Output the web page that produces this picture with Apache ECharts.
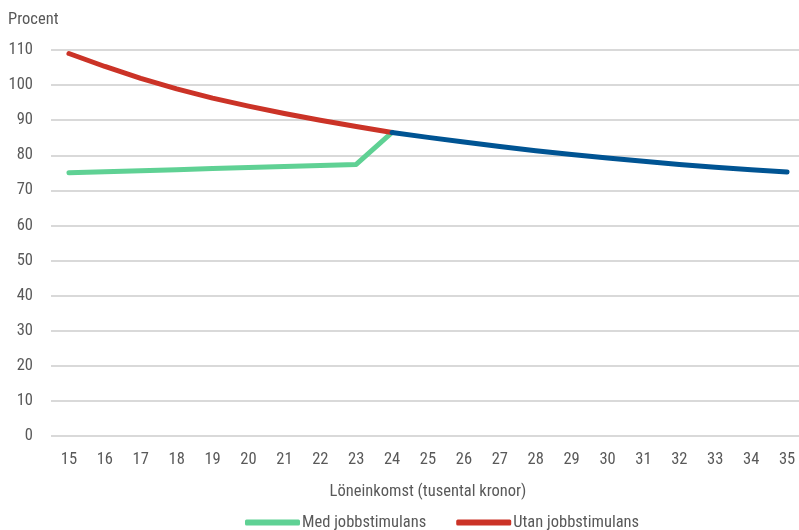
<!DOCTYPE html>
<html><head><meta charset="utf-8">
<script src="https://cdn.jsdelivr.net/npm/echarts@6/dist/echarts.min.js"></script>
<style>html,body{margin:0;padding:0;background:#fff}#c{width:799px;height:530px}</style>
</head><body><div id="c"></div>
<script>
const categories = ['15','16','17','18','19','20','21','22','23','24','25','26','27','28','29','30','31','32','33','34','35'];
const medJobbstimulans = [75.0, 75.3, 75.6, 75.9, 76.2, 76.5, 76.8, 77.1, 77.4, 86.5];
const utanJobbstimulans = [109.0, 105.3, 101.9, 98.9, 96.3, 94.0, 91.9, 90.0, 88.2, 86.5];
const gemensam = [null, null, null, null, null, null, null, null, null, 86.5, 85.1, 83.8, 82.5, 81.3, 80.2, 79.2, 78.3, 77.4, 76.6, 75.9, 75.2];
const yTicks = {min: 0, max: 110, interval: 10};

const FONT = '"Roboto Condensed", "Liberation Sans Narrow", sans-serif';
const FS = 16.5;
const chart = echarts.init(document.getElementById('c'), null, {renderer: 'canvas'});
const lineStyle = (c) => ({color: c, width: 5, cap: 'round', join: 'round'});
chart.setOption({
  animation: false,
  textStyle: {fontFamily: FONT, color: '#595959'},
  grid: {left: 51, top: 50, right: -6, bottom: 94, containLabel: false, outerBoundsMode: 'none'},
  title: {text: 'Procent', left: 3, top: 6, textStyle: {fontFamily: FONT, fontSize: FS, fontWeight: 'normal', color: '#595959'}},
  legend: {
    data: ['Med jobbstimulans', 'Utan jobbstimulans'],
    bottom: -6, left: 240,
    icon: 'roundRect', itemWidth: 55, itemHeight: 6, itemGap: 30,
    textStyle: {fontFamily: FONT, fontSize: FS, color: '#595959', padding: [0, 0, 0, -3]}
  },
  xAxis: {
    type: 'category', data: categories, boundaryGap: true,
    axisLine: {show: false}, axisTick: {show: false},
    axisLabel: {fontFamily: FONT, fontSize: FS, color: '#595959', margin: 15},
    name: 'Löneinkomst (tusental kronor)', nameLocation: 'middle', nameGap: 47,
    nameTextStyle: {fontFamily: FONT, fontSize: FS, color: '#595959'}
  },
  yAxis: {
    type: 'value', min: yTicks.min, max: yTicks.max, interval: yTicks.interval,
    axisLine: {show: false}, axisTick: {show: false},
    axisLabel: {fontFamily: FONT, fontSize: FS, color: '#595959', margin: 18},
    splitLine: {lineStyle: {color: '#d9d9d9', width: 2}}
  },
  series: [
    {name: 'Med jobbstimulans', type: 'line', data: medJobbstimulans, showSymbol: false, symbol: 'none', lineStyle: lineStyle('#5fd194'), itemStyle: {color: '#5fd194'}, z: 2},
    {name: 'Utan jobbstimulans', type: 'line', data: utanJobbstimulans, showSymbol: false, symbol: 'none', lineStyle: lineStyle('#cb3327'), itemStyle: {color: '#cb3327'}, z: 3},
    {name: 'Gemensam', type: 'line', data: gemensam, showSymbol: false, symbol: 'none', lineStyle: lineStyle('#005493'), itemStyle: {color: '#005493'}, z: 4}
  ]
});
</script></body></html>
